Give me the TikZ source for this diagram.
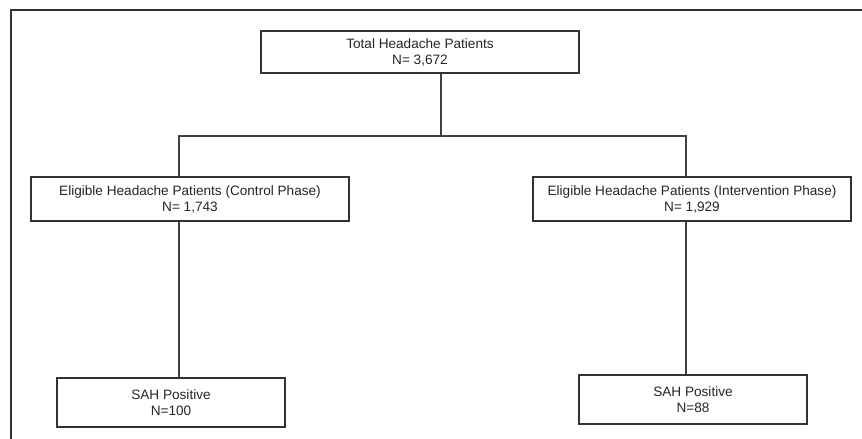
\documentclass[tikz,border=0pt]{standalone}
\usepackage{fontspec}
\setmainfont{Liberation Sans}
\usepackage{tikz}
\usetikzlibrary{calc}

\begin{document}
\begin{tikzpicture}[x=1pt, y=-1pt,
  box/.style={draw=black!80, line width=1.2pt, rectangle, inner sep=0pt, align=center,
    text=black!85, font=\fontsize{13.6}{16}\selectfont, minimum height=44pt},
  link/.style={draw=black!75, line width=1.3pt}]
\useasboundingbox (0,0) rectangle (862,439);
\fill[white] (0,0) rectangle (862,439);
\draw[black!80, line width=2pt] (11,439)--(11,10)--(862,10);
\node[box, minimum width=318pt, minimum height=42pt] (total) at (420,52) {Total Headache Patients\\N= 3,672};
\node[box, minimum width=318pt] (control) at (190,199) {Eligible Headache Patients (Control Phase)\\N= 1,743};
\node[box, minimum width=318pt] (interv) at (692,199) {Eligible Headache Patients (Intervention Phase)\\N= 1,929};
\node[box, minimum width=228pt, minimum height=49pt] (sahA) at (171,402.5) {SAH Positive\\N=100};
\node[box, minimum width=228pt, minimum height=49pt] (sahB) at (693,399.5) {SAH Positive\\N=88};
\coordinate (split) at (441,136);
\coordinate (leftx) at (179,0);
\coordinate (rightx) at (686,0);
\draw[link] (total.south -| split)--(split);
\draw[link] (control.north -| leftx)|-(split)-|(interv.north -| rightx);
\draw[link] (control.south -| leftx)--(sahA.north -| leftx);
\draw[link] (interv.south -| rightx)--(sahB.north -| rightx);
\end{tikzpicture}
\end{document}
